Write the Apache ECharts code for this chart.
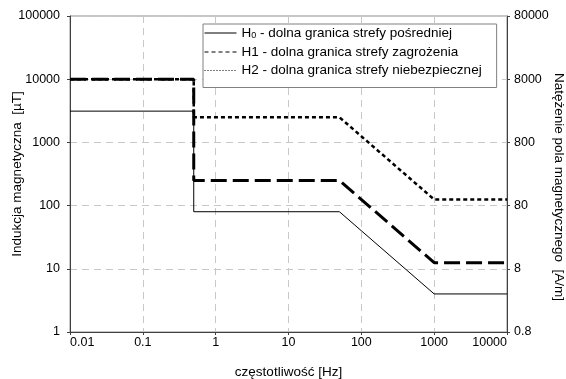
<!DOCTYPE html>
<html lang="pl">
<head>
    <meta charset="UTF-8">
    <title>Granice stref</title>
    <script src="https://cdn.jsdelivr.net/npm/echarts@6/dist/echarts.min.js"></script>
</head>
<body style="margin:0">
    <div id="main" style="width: 566px;height:379px;"></div>
    <script type="text/javascript">

        // frequency break points [Hz]
        var freq = [0.01, 0.5, 0.5, 50, 1000, 10000];
        // induction values [uT]
        var h0 = [3125, 3125, 80, 80, 4, 4];
        var h1 = [10000, 10000, 250, 250, 12.5, 12.5];
        var h2 = [10000, 10000, 2500, 2500, 125, 125];
        // right axis (A/m) tick labels
        var rightLabels = ['0.8', '8', '80', '800', '8000', '80000'];
        var legendLabels = {
            H0: '{n|H}{s|0}{n| - dolna granica strefy pośredniej}',
            H1: '{n|H1 - dolna granica strefy zagrożenia}',
            H2: '{n|H2 - dolna granica strefy niebezpiecznej}'
        };

        function pairs(vals) {
            return freq.map(function (f, i) { return [f, vals[i]]; });
        }

        function fmt(v) {
            return String(+Number(v).toPrecision(4));
        }

        var font = "'Liberation Sans', Arial, sans-serif";
        var gridLine = { show: true, lineStyle: { color: '#c8c8c8', type: [7, 5], width: 1 } };
        var nameStyle = { fontSize: 13.5, fontFamily: font, color: '#000' };

        var chartDom = document.getElementById('main');
        var myChart = echarts.init(chartDom);
        var option;

        option = {
            animation: false,
            textStyle: { fontFamily: font, color: '#000' },
            grid: {
                left: 70, right: 59, top: 16, bottom: 47,
                outerBoundsMode: 'none',
                containLabel: false,
                show: true, borderColor: '#8c8c8c', borderWidth: 1
            },
            legend: {
                orient: 'vertical',
                left: 203, top: 24,
                padding: [2, 15, 10, 1],
                itemWidth: 32, itemHeight: 14, itemGap: 4.5,
                backgroundColor: '#fff',
                borderColor: '#808080', borderWidth: 1,
                itemStyle: { color: 'rgba(0,0,0,0)', borderWidth: 0 },
                formatter: function (name) { return legendLabels[name]; },
                textStyle: {
                    fontFamily: font,
                    rich: {
                        n: { fontSize: 13.5, color: '#000', fontFamily: font, lineHeight: 15 },
                        s: { fontSize: 9, color: '#000', fontFamily: font, lineHeight: 15, verticalAlign: 'bottom', padding: [5, 0, 0, 0] }
                    }
                },
                data: [
                    { name: 'H0', lineStyle: { type: 'solid', width: 1 } },
                    { name: 'H1', lineStyle: { type: [4, 3], width: 1 } },
                    { name: 'H2', lineStyle: { type: [1, 2], width: 1 } }
                ]
            },
            xAxis: {
                type: 'log', logBase: 10,
                min: 0.01, max: 10000,
                name: 'częstotliwość [Hz]',
                nameLocation: 'middle', nameGap: 33, nameMoveOverlap: false,
                nameTextStyle: nameStyle,
                axisLine: { lineStyle: { color: '#404040', width: 1 } },
                axisTick: { show: true, length: 3, lineStyle: { color: '#404040' } },
                axisLabel: {
                    fontSize: 12.5, color: '#000', fontFamily: font, margin: 4,
                    alignMinLabel: 'left', alignMaxLabel: 'right',
                    formatter: fmt
                },
                splitLine: gridLine,
                minorTick: { show: false }
            },
            yAxis: [
                {
                    type: 'log', logBase: 10,
                    min: 1, max: 100000,
                    name: 'Indukcja magnetyczna  [\u00b5T]',
                    nameLocation: 'middle', nameGap: 46, nameMoveOverlap: false,
                    nameTextStyle: nameStyle,
                    axisLine: { show: true, lineStyle: { color: '#404040', width: 1 } },
                    axisTick: { show: true, length: 3, lineStyle: { color: '#404040' } },
                    axisLabel: { fontSize: 12.5, color: '#000', fontFamily: font, margin: 10, formatter: fmt },
                    splitLine: gridLine
                },
                {
                    type: 'value',
                    position: 'right',
                    min: 0, max: 5, interval: 1,
                    name: 'Natężenie pola magnetycznego  [A/m]',
                    nameLocation: 'middle', nameGap: 45, nameRotate: -90, nameMoveOverlap: false,
                    nameTextStyle: { fontSize: 13.5, fontFamily: font, color: '#000', padding: [0, 0, 0, 26] },
                    axisLine: { show: true, lineStyle: { color: '#404040', width: 1 } },
                    axisTick: { show: true, length: 3, lineStyle: { color: '#404040' } },
                    axisLabel: {
                        fontSize: 12.5, color: '#000', fontFamily: font, margin: 7,
                        formatter: function (v) { return rightLabels[v]; }
                    },
                    splitLine: { show: false }
                }
            ],
            series: [
                {
                    name: 'H0', type: 'line', symbol: 'none',
                    data: pairs(h0),
                    lineStyle: { color: '#000', width: 1, type: 'solid' },
                    itemStyle: { color: '#000' }
                },
                {
                    name: 'H1', type: 'line', symbol: 'none',
                    data: pairs(h1),
                    lineStyle: { color: '#000', width: 3, type: [16, 6] },
                    itemStyle: { color: '#000' }
                },
                {
                    name: 'H2', type: 'line', symbol: 'none',
                    data: pairs(h2),
                    lineStyle: { color: '#000', width: 2.5, type: [4, 3] },
                    itemStyle: { color: '#000' }
                }
            ]
        };

        option && myChart.setOption(option);

    </script>
</body>
</html>
